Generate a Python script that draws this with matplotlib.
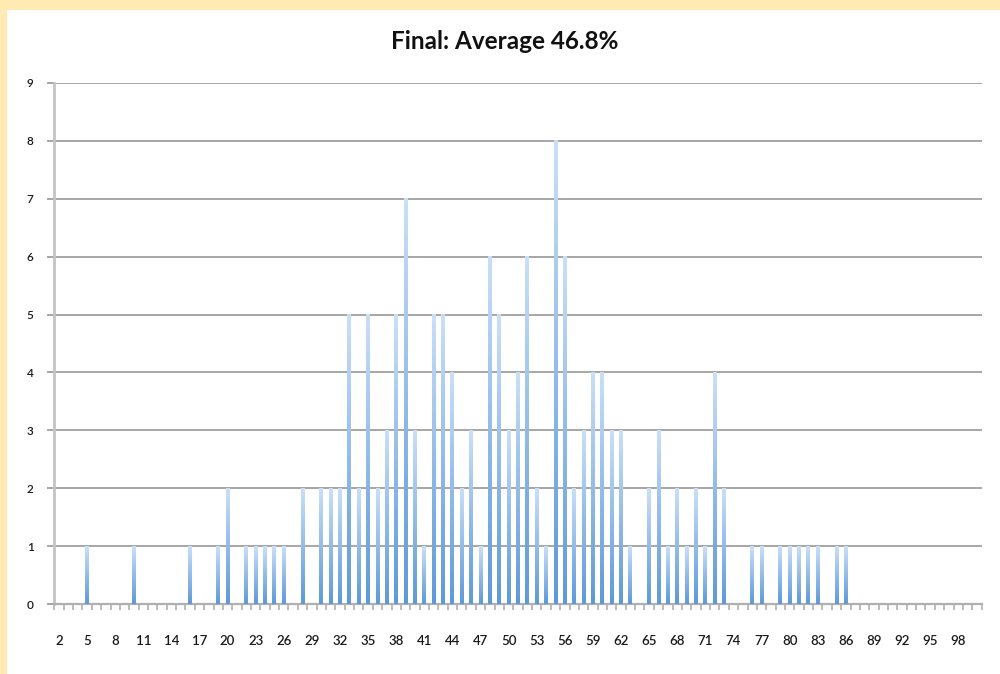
import numpy as np
import matplotlib
matplotlib.use("Agg")
import matplotlib.pyplot as plt
from matplotlib.patches import Rectangle
from matplotlib.colors import LinearSegmentedColormap

plt.rcParams['font.family'] = ['Lato', 'DejaVu Sans']

title = "Final: Average 46.8%"

# score categories (x axis), 2 .. 100
scores = list(range(2, 101))
# number of students at each score
counts = [
    0, 0, 0, 1, 0, 0, 0, 0, 1, 0,      # 2-11
    0, 0, 0, 0, 1, 0, 0, 1, 2, 0,      # 12-21
    1, 1, 1, 1, 1, 0, 2, 0, 2, 2,      # 22-31
    2, 5, 2, 5, 2, 3, 5, 7, 3, 1,      # 32-41
    5, 5, 4, 2, 3, 1, 6, 5, 3, 4,      # 42-51
    6, 2, 1, 8, 6, 2, 3, 4, 4, 3,      # 52-61
    3, 1, 0, 2, 3, 1, 2, 1, 2, 1,      # 62-71
    4, 2, 0, 0, 1, 1, 0, 1, 1, 1,      # 72-81
    1, 1, 0, 1, 1, 0, 0, 0, 0, 0,      # 82-91
    0, 0, 0, 0, 0, 0, 0, 0, 0,         # 92-100
]
label_scores = scores[::3]
y_ticks = list(range(0, 10))

fig = plt.figure(figsize=(10, 6.74), dpi=100)
fig.patch.set_facecolor('#FEEAB2')
fig.patches.append(Rectangle((0.007, 0), 0.993, 664 / 674, transform=fig.transFigure,
                             facecolor='white', edgecolor='none', zorder=-10))

ax = fig.add_axes([0.0543, 0.1034, 0.9274, 0.7739])
ax.set_zorder(5)
ax.set_facecolor('none')

cmap = LinearSegmentedColormap.from_list('barg', ['#5F9AD8', '#93BCE8', '#C9DFF8'])
grad = np.linspace(0, 1, 64).reshape(-1, 1)
bw = 0.42
bars = ax.bar(scores, counts, width=bw, color='none', edgecolor='none', zorder=3)
for b in bars:
    h = b.get_height()
    if h <= 0:
        continue
    x0 = b.get_x()
    ax.imshow(grad, cmap=cmap, origin='lower', aspect='auto',
              extent=(x0, x0 + bw, 0, h), zorder=3, interpolation='bilinear')

ax.set_xlim(scores[0] - 0.5, scores[-1] + 0.5)
ax.set_ylim(0, 9)

# grid
ax.set_yticks(y_ticks)
ax.yaxis.grid(True, color='#A6A6A6', linewidth=1.4, zorder=1)
ax.set_axisbelow(True)
ax.tick_params(axis='y', length=5, width=1.4, color='#A6A6A6', labelsize=8.5, pad=10,
               labelcolor='#1A1A1A')

ax.set_xticks(label_scores)
ax.set_xticklabels([str(s) for s in label_scores])
ax.set_xticks([s - 0.5 for s in scores] + [scores[-1] + 0.5], minor=True)
ax.tick_params(axis='x', which='major', length=0, labelsize=9.5, pad=22, labelcolor='#1A1A1A')
ax.tick_params(axis='x', which='minor', length=4, width=1.2, color='#B0B0B0')
for lab in ax.get_xticklabels() + ax.get_yticklabels():
    lab.set_fontweight('semibold')

for s in ['top', 'right']:
    ax.spines[s].set_visible(False)
ax.spines['left'].set_color('#C4C4C4')
ax.spines['left'].set_linewidth(2)
ax.spines['bottom'].set_color('#B0B0B0')
ax.spines['bottom'].set_linewidth(1.6)

fig.text(0.505, 0.938, title, ha='center', va='center', fontsize=17.5,
         fontweight='bold', color='#111111')

fig.savefig('out.png', dpi=100, facecolor=fig.get_facecolor())
